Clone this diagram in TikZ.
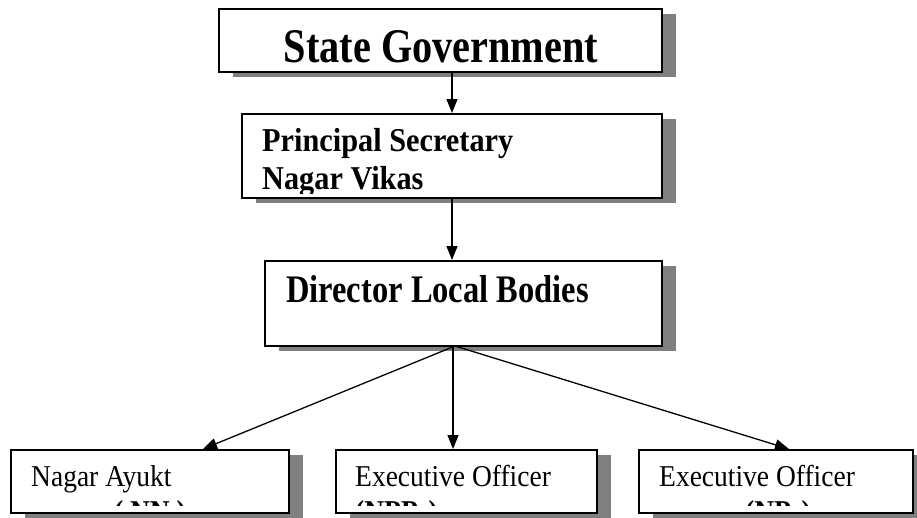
\documentclass[tikz,border=0pt]{standalone}
\usepackage{fontspec}
\usepackage{graphicx}
\setmainfont{Liberation Serif}
\usetikzlibrary{arrows.meta,shadows}
\newcommand{\vstretch}[2]{\scalebox{1}[#1]{#2}}
\tikzset{
  box/.style={draw=black, line width=2pt, fill=white, inner sep=0pt,
    general shadow={fill=black!50, shadow xshift=14pt, shadow yshift=-5pt}},
  arr/.style={line width=1.3pt, -{Triangle[length=14pt,width=11pt]}},
  lbl/.style={inner sep=0pt, anchor=base west},
}
\begin{document}
\begin{tikzpicture}[x=1pt,y=-1pt]
\useasboundingbox (0,0) rectangle (917,517);
% boxes
\node[box, minimum width=443pt, minimum height=63pt] (sg) at (440.5,40.5) {};
\node[box, minimum width=420pt, minimum height=84pt] (ps) at (452,156) {};
\node[box, minimum width=397pt, minimum height=85pt] (dl) at (463.5,303.5) {};
\node[box, minimum width=278pt, minimum height=63pt] (na) at (150,481.5) {};
\node[box, minimum width=261pt, minimum height=63pt] (eoa) at (466.5,481.5) {};
\node[box, minimum width=274pt, minimum height=63pt] (eob) at (776,481.5) {};
% texts
\node[inner sep=0pt, anchor=base, font=\fontsize{40.3}{46}\selectfont\bfseries] (sgt) at (441,62) {\vstretch{1.2}{State Government}};
\begin{scope}
\clip (244,116) rectangle (660,193);
\node[lbl, font=\fontsize{30.3}{36}\selectfont\bfseries] (pst1) at (262,151) {\vstretch{1.1}{Principal Secretary}};
\node[lbl, font=\fontsize{30.3}{36}\selectfont\bfseries] (pst2) at (262,189) {\vstretch{1.1}{Nagar Vikas}};
\end{scope}
\node[lbl, font=\fontsize{32.5}{38}\selectfont\bfseries] (dlt) at (286,302) {\vstretch{1.2}{Director Local Bodies}};
\begin{scope}
\clip (13,452) rectangle (911,505);
\node[lbl, font=\fontsize{27.5}{33}\selectfont] (nat1) at (31,486) {\vstretch{1.1}{Nagar Ayukt}};
\node[inner sep=0pt, anchor=base, font=\fontsize{27.5}{33}\selectfont\bfseries] (nat2) at (150,521) {\vstretch{1.1}{( NN )}};
\node[lbl, font=\fontsize{27.5}{33}\selectfont] (eoat1) at (355,486) {\vstretch{1.1}{Executive Officer}};
\node[lbl, font=\fontsize{27.5}{33}\selectfont\bfseries] (eoat2) at (355,521) {\vstretch{1.1}{(NPPs)}};
\node[lbl, font=\fontsize{27.5}{33}\selectfont] (eobt1) at (659,486) {\vstretch{1.1}{Executive Officer}};
\node[inner sep=0pt, anchor=base, font=\fontsize{27.5}{33}\selectfont\bfseries] (eobt2) at (778,521) {\vstretch{1.1}{(NPs)}};
\end{scope}
% connectors
\coordinate (hub) at (455,346);
\draw[arr] (ps.north |- sg.south) -- (ps.north);
\draw[arr] (ps.south) -- (ps.south |- dl.north);
\draw[arr] (hub) -- ([xshift=53pt]na.north);
\draw[arr] (hub -| 453,0) -- (453,0 |- eoa.north);
\draw[arr] (hub) -- ([xshift=13pt]eob.north);
\end{tikzpicture}
\end{document}
